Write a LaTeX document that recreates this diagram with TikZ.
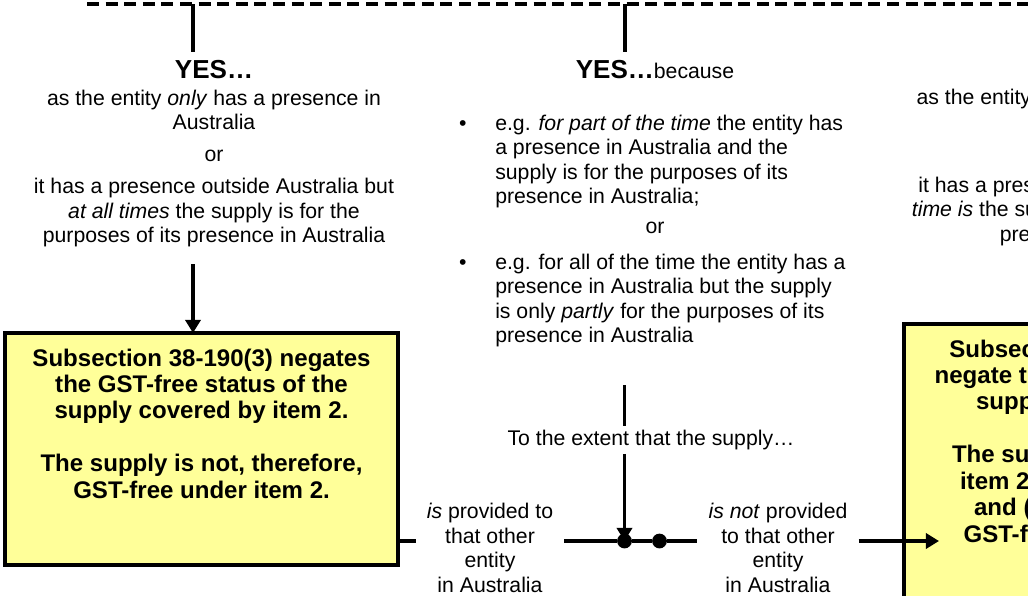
\documentclass[tikz,border=0pt]{standalone}
\usepackage{fontspec}
\setmainfont{Liberation Sans}
\usetikzlibrary{positioning, arrows.meta}
\definecolor{boxyellow}{RGB}{255,255,153}
\tikzstyle{qframe} = [rectangle, draw=black, line width=0.1cm, dash pattern=on 0.3cm off 0.165cm, outer sep=0]
\tikzstyle{body} = [inner sep=0, font=\fontsize{15.1}{17.4}\selectfont, align=center]
\tikzstyle{heading} = [inner sep=0, font=\fontsize{18.5}{20}\selectfont\bfseries]
\tikzstyle{gstbox} = [rectangle, draw=black, line width=0.11cm, fill=boxyellow, inner sep=0, outer sep=0, font=\fontsize{17.1}{18.8}\selectfont\bfseries]
\tikzstyle{extentlbl} = [body, outer xsep=0.28cm, outer ysep=0]
\tikzstyle{junction} = [circle, fill=black, inner sep=0, minimum size=0.37cm]
\tikzstyle{conn} = [line width=0.095cm]
\tikzstyle{arrow} = [line width=0.095cm, -{Triangle[length=0.33cm, width=0.38cm]}]

\begin{document}
\begin{tikzpicture}[x=0.025cm, y=-0.025cm]
\useasboundingbox (0,0) rectangle (1028,595);
\clip (0,0) rectangle (1028,595);
\node (qbox) [qframe, anchor=south west, minimum width=30cm, minimum height=3cm] at (87,4) {};

% left column
\coordinate (tL) at (193,52);
\coordinate (aLtop) at (193,264);
\node (yesL) [heading, anchor=base] at (214,78) {YES…};
\node (textL) [body, below=0.275cm of yesL] {as the entity \textit{only} has a presence in\\ Australia\\[0.19cm] or\\[0.19cm] it has a presence outside Australia but\\ \textit{at all times} the supply is for the\\ purposes of its presence in Australia};
\node (lbox) [gstbox, anchor=north west] at (5,333) {\parbox[t][5.8cm][t]{9.825cm}{\centering\vspace*{0.39cm}Subsection 38-190(3) negates\\ the GST-free status of the\\ supply covered by item 2.\\[18.8pt] The supply is not, therefore,\\ GST-free under item 2.}};
\draw [conn] (qbox.south -| tL) -- (tL);
\draw [arrow] (aLtop) -- (aLtop |- lbox.north);

% middle column
\coordinate (tM) at (625,52);
\coordinate (cM) at (624.5,385);
\node (yesM) [body, anchor=base] at (655,78) {{\fontsize{18.5}{20}\selectfont\bfseries YES…}because};
\node (ex1) [body, align=left, anchor=north west] at (495,114.6) {\llap{\textbullet\hspace{0.72cm}}e.g. \textit{for part of the time} the entity has\\ a presence in Australia and the\\ supply is for the purposes of its\\ presence in Australia;};
\node (orM) [body, anchor=base] at (655,233.5) {or};
\node (ex2) [body, align=left, anchor=north west] at (495,253.6) {\llap{\textbullet\hspace{0.72cm}}e.g. for all of the time the entity has a\\ presence in Australia but the supply\\ is only \textit{partly} for the purposes of its\\ presence in Australia};
\draw [conn] (qbox.south -| tM) -- (tM);

% junction
\node (extent) [body, outer ysep=0.1cm] at (651,440) {To the extent that the supply…};
\node (dotA) [junction] at (624.5,541) {};
\node (dotB) [junction] at (659.5,541) {};
\node (provL) [extentlbl, anchor=north] at (490,503.6) {\textit{is} provided to\\ that other\\ entity\\ in Australia};
\node (provR) [extentlbl, anchor=north] at (778,503.6) {\textit{is not} provided\\ to that other\\ entity\\ in Australia};
\coordinate (tipR) at (939,541);
\draw [conn] (cM) -- (cM |- extent.north);
\draw [arrow] (dotA |- extent.south) -- (dotA.center);
\draw [conn] (provL.east |- dotA) -- (dotA) -- (dotB) -- (provR.west |- dotB);
\draw [conn] (provL.west |- dotA) -- (lbox.east |- dotA);

% right column
\node (textR1) [body, anchor=base] at (1099,104) {as the entity does not have a presence};
\node (textR2) [body, anchor=north] at (1099,176.6) {it has a presence in Australia but \textit{at no}\\ \textit{time is} the supply for the purposes of its\\ presence in Australia};
\node (rbox) [gstbox, anchor=north west] at (904,324) {\parbox[t][7.5cm][t]{10.95cm}{\centering\vspace*{0.39cm}Subsection 38-190(3) does not\\ negate the GST-free status of the\\ supply covered by item 2.\\[18.8pt] The supply is GST-free (under\\ item 2) to the extent that it is\\ and (to that extent) is also\\ GST-free to that extent only.}};
\draw [arrow] (provR.east |- dotB) -- (tipR);
\end{tikzpicture}
\end{document}
